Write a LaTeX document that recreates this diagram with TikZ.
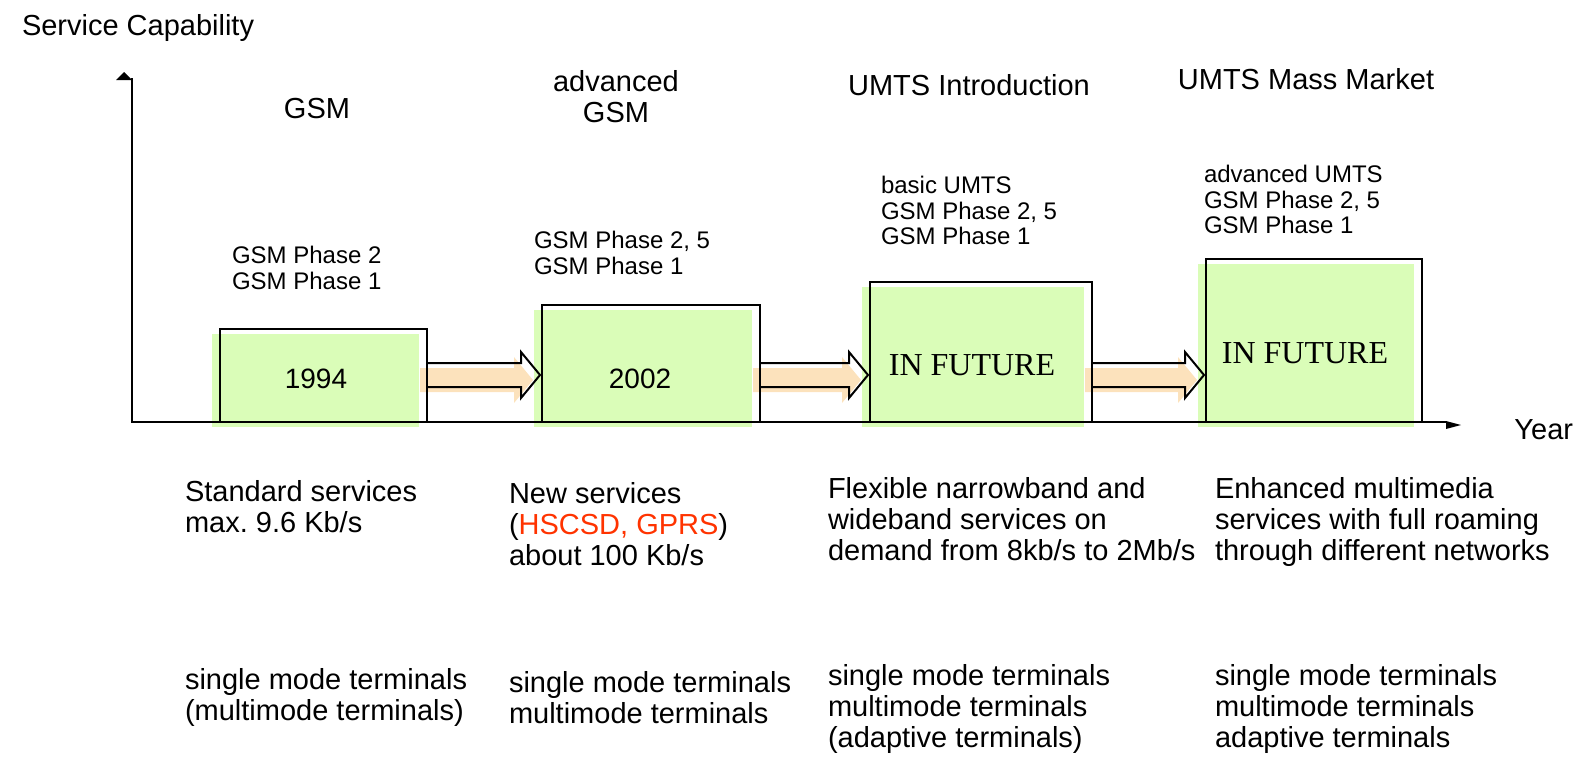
\documentclass[tikz,border=0pt]{standalone}
\usepackage{fontspec}
\setmainfont{Liberation Sans}
\newfontfamily\timesf{Liberation Serif}
\usetikzlibrary{calc,backgrounds}
\definecolor{boxgreen}{RGB}{218,253,184}
\definecolor{peach}{RGB}{252,226,188}
\definecolor{hired}{RGB}{255,51,0}
\frenchspacing
\newcommand\arrowshape[2]{(#1.east |- sTop) -- ($(#2.west |- sTop)+(-21,0)$) -- ($(#2.west |- hTop)+(-21,0)$) -- ($(#2.west |- mid)+(-2,0)$) -- ($(#2.west |- hBot)+(-21,0)$) -- ($(#2.west |- sBot)+(-21,0)$) -- (#1.east |- sBot)}
\begin{document}
\frenchspacing
\begin{tikzpicture}[x=0.5pt,y=-0.5pt,
  big/.style={font=\fontsize{14.5}{15.5}\selectfont, inner sep=0pt, outer sep=0pt, align=left, anchor=north west},
  small/.style={font=\fontsize{12}{12.8}\selectfont, inner sep=0pt, outer sep=0pt, align=left, anchor=north west},
  title/.style={font=\fontsize{14.5}{15.5}\selectfont, inner sep=0pt, outer sep=0pt, align=center},
  yeartxt/.style={font=\fontsize{14}{15}\selectfont, inner sep=0pt},
  futtxt/.style={font=\timesf\fontsize{16}{17}\selectfont, inner sep=0pt},
  outbox/.style={draw, line width=1.2pt, inner sep=0pt, outer sep=0pt},
  blockarrow/.style={draw, line width=1pt, line join=miter},
  axisline/.style={line width=1pt}]
\useasboundingbox (0,0) rectangle (1583,760);

% outline boxes
\node[outbox, minimum width=103.5pt, minimum height=46.5pt] (b1) at (323.5,375.5) {};
\node[outbox, minimum width=109pt, minimum height=58.5pt] (b2) at (651,363.5) {};
\node[outbox, minimum width=111pt, minimum height=70pt] (b3) at (981,352) {};
\node[outbox, minimum width=108pt, minimum height=81.5pt] (b4) at (1314,340.5) {};

% arrow geometry
\coordinate (sTop) at (0,363);
\coordinate (sBot) at (0,387);
\coordinate (hTop) at (0,352);
\coordinate (hBot) at (0,398);
\coordinate (mid) at (0,375);

% shadows
\begin{pgfonlayer}{background}
  \begin{scope}[transform canvas={xshift=-4pt,yshift=-2.5pt}]
    \foreach \b in {b1,b2,b3,b4} \fill[boxgreen] (\b.south west) rectangle (\b.north east);
  \end{scope}
  \begin{scope}[transform canvas={xshift=-3.5pt,yshift=-2.5pt}]
    \fill[peach] \arrowshape{b1}{b2} -- cycle;
    \fill[peach] \arrowshape{b2}{b3} -- cycle;
    \fill[peach] \arrowshape{b3}{b4} -- cycle;
  \end{scope}
\end{pgfonlayer}

% block arrows
\draw[blockarrow] \arrowshape{b1}{b2};
\draw[blockarrow] \arrowshape{b2}{b3};
\draw[blockarrow] \arrowshape{b3}{b4};

% axes
\coordinate (orig) at (132,422);
\coordinate (ytop) at (132,78);
\coordinate (xend) at (1447,422);
\draw[axisline] (ytop) -- (orig) -- (xend);
\fill (116,80) -- (124,72) -- (132,80) -- cycle;
\fill (1446,421) -- (1461,425) -- (1446,429) -- cycle;

% box labels
\node[yeartxt] (t1) at (316,379) {1994};
\node[yeartxt] (t2) at (640,379) {2002};
\node[futtxt] (t3) at (972,365) {IN FUTURE};
\node[futtxt] (t4) at (1305,353) {IN FUTURE};

% axis labels
\node[big] (sc) at (22,14.5) {Service Capability};
\node[font=\fontsize{14.5}{15.5}\selectfont, inner sep=0pt, anchor=base west] (yr) at (1514,439) {Year};

% titles
\node[title, anchor=base] (g1) at (317,118.5) {GSM};
\node[title] (g2) at (616,96.5) {advanced\\GSM};
\node[title, anchor=base] (g3) at (969,95.5) {UMTS Introduction};
\node[title, anchor=base] (g4) at (1306,89.5) {UMTS Mass Market};

% phase lists
\node[small] (p1) at (232,246.4) {GSM Phase 2\\GSM Phase 1};
\node[small] (p2) at (534,231.4) {GSM Phase 2, 5\\GSM Phase 1};
\node[small] (p3) at (881,176.4) {basic UMTS\\GSM Phase 2, 5\\GSM Phase 1};
\node[small] (p4) at (1204,165.4) {advanced UMTS\\GSM Phase 2, 5\\GSM Phase 1};

% service descriptions
\node[big] (s1) at (185,480.5) {Standard services\\max. 9.6 Kb/s};
\node[big] (s2) at (509,482.5) {New services\\(\textcolor{hired}{HSCSD, GPRS})\\about 100 Kb/s};
\node[big] (s3) at (828,477.5) {Flexible narrowband and\\wideband services on\\demand from 8kb/s to 2Mb/s};
\node[big] (s4) at (1215,477.5) {Enhanced multimedia\\services with full roaming\\through different networks};

% terminals
\node[big] (m1) at (185,668.5) {single mode terminals\\(multimode terminals)};
\node[big] (m2) at (509,671.5) {single mode terminals\\multimode terminals};
\node[big] (m3) at (828,664.5) {single mode terminals\\multimode terminals\\(adaptive terminals)};
\node[big] (m4) at (1215,664.5) {single mode terminals\\multimode terminals\\adaptive terminals};
\end{tikzpicture}
\end{document}
